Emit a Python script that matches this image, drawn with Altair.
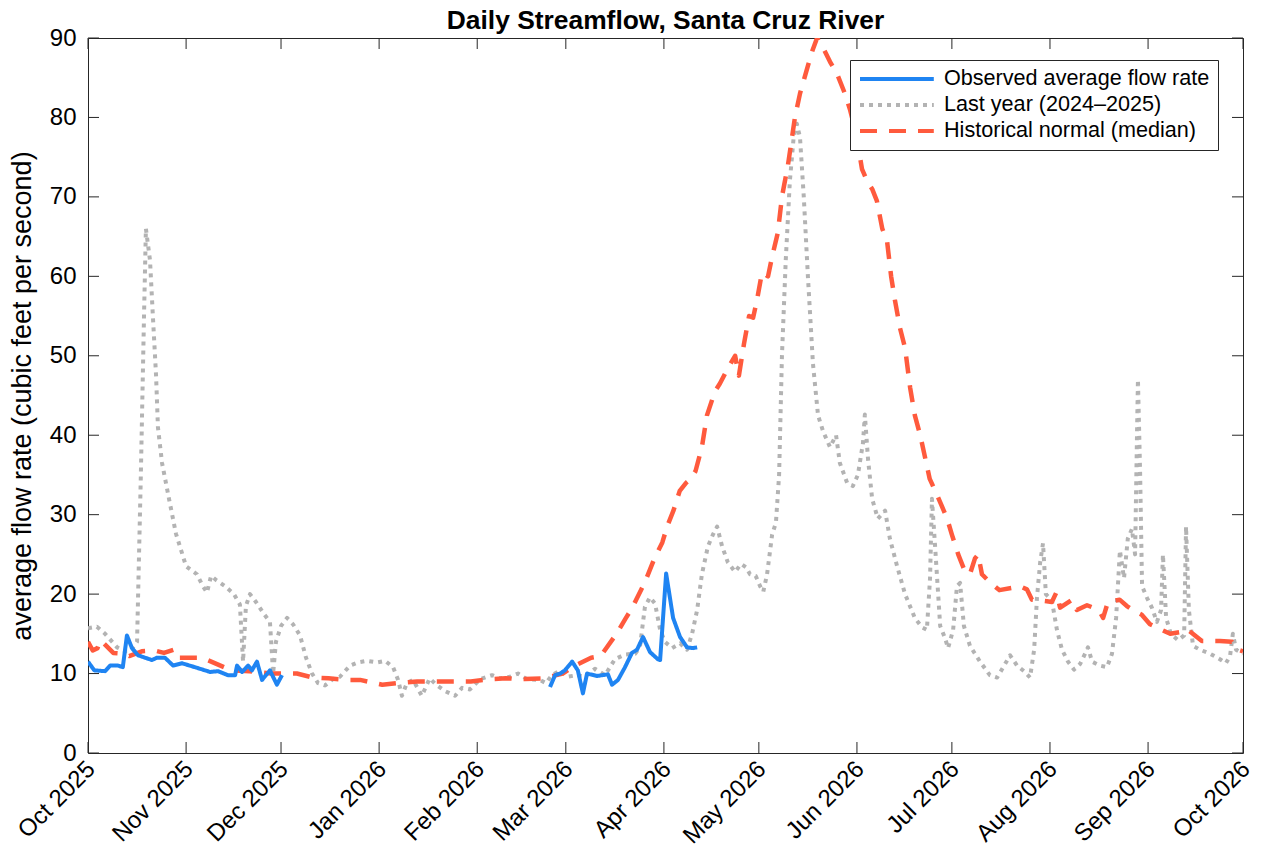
import altair as alt
import pandas as pd

START = pd.Timestamp("2025-10-01")
W, H = 1155, 715
FONT = "Liberation Sans"
INK = "#262626"

# ---- data (days since 1 Oct 2025, cfs) ----
obs1_day = [0, 2, 5.4, 7, 9.5, 11, 12.3, 13.9, 15.8, 20.2, 21.8, 24.3, 26.9, 29.7,
            33.8, 38.6, 41.1, 44.2, 46.5, 47.1, 48.7, 50.6, 51.8, 53.4, 55, 57.5, 59.7, 61.3]
obs1_val = [11.5, 10.4, 10.3, 11.0, 11.0, 10.8, 14.8, 13.2, 12.3, 11.7, 12.0, 12.0, 11.0, 11.3,
            10.8, 10.2, 10.3, 9.8, 9.8, 11.0, 10.2, 11.0, 10.4, 11.5, 9.2, 10.4, 8.6, 9.8]

obs2_day = [146, 147.6, 149.2, 150.7, 153, 154.8, 156.4, 157.7, 160.9, 164.3, 165.6, 167.5,
            169.7, 171.9, 173.5, 175.4, 177.6, 180.1, 180.8, 182.7, 184.9, 187.1, 189.3, 191.2, 192.5]
obs2_val = [8.3, 9.8, 10.0, 10.4, 11.5, 10.4, 7.5, 10.0, 9.7, 9.9, 8.6, 9.2,
            10.8, 12.6, 13.0, 14.6, 12.7, 11.8, 11.7, 22.6, 17.0, 14.6, 13.3, 13.2, 13.3]

last_day = [0, 2.8, 5.4, 9.2, 11.7, 13.3, 15.5, 16.7, 17.7, 18.3, 19.6, 20.5, 21.5, 22.1, 23.4,
            25.6, 27.8, 31, 34.4, 36.3, 37.6, 38.9, 40.4, 43.3, 46.1, 48, 49, 49.9, 51.2, 53.1,
            55.6, 57.5, 58.5, 59.4, 61, 62.9, 64.8, 67, 68.9, 70.8, 72.7, 74.9, 77.4, 79.6, 82.8,
            85.3, 88.2, 91.3, 93.9, 96.4, 98, 99.2, 100.8, 102.7, 105.5, 108, 110, 112.8, 116,
            118.2, 120.7, 123.9, 127.7, 130.2, 133.4, 135.9, 138.7, 142.8, 144.7, 146.6, 149.2,
            151.7, 154.5, 157, 160.2, 163.4, 166.5, 169.7, 172.9, 174.4, 176, 177.6, 179.2, 180.8,
            182.3, 184.6, 187.1, 189.3, 190.9, 192.5, 194, 195.9, 197.5, 198.8, 200.4, 202.2,
            204.5, 206.4, 207.9, 209.2, 211, 212.4, 213.4, 214.6, 216.2, 217.4, 218.4, 219.3,
            220.5, 221.8, 223, 224, 225, 226.2, 227.5, 229.1, 230.7, 232.3, 234.5, 236.4, 237.6,
            239.9, 241.7, 243.3, 244.9, 245.5, 246.5, 247.8, 249.6, 251.9, 253.4, 255.7, 258.2,
            261.3, 263.6, 265.1, 266.1, 266.7, 267.7, 269.3, 270.8, 271.8, 273.4, 274.6, 275.6,
            276.8, 278.7, 281.9, 285, 287.3, 289.8, 291.4, 293.6, 296.1, 297.7, 299, 299.9, 300.9,
            301.8, 302.7, 304.6, 306.2, 307.8, 309.7, 311.6, 313.5, 315.1, 316, 317.3, 319.8, 322,
            323.6, 324.9, 326.1, 327.4, 328.6, 329.9, 330.9, 331.5, 331.8, 332.5, 333.1, 334.7,
            336.2, 337.8, 339.1, 339.7, 340.7, 342.2, 344.5, 346.4, 347, 347.9, 349.2, 351.4,
            354.6, 357.7, 359.6, 360.9, 361.8, 362.8, 365]
last_val = [15.7, 15.9, 15.0, 13.3, 12.8, 12.8, 14.0, 35, 55, 66, 62, 55, 47.6, 41, 36.5,
            32, 27.6, 23.5, 22.5, 21, 20.2, 22.3, 21.8, 21, 20, 18.7, 11.5, 18.5, 20, 19,
            17.5, 16.5, 10, 14, 16, 17, 16.2, 14.8, 12, 10, 8.8, 8.5, 9.3, 9.6, 11,
            11.4, 11.6, 11.4, 11.6, 10.8, 9.2, 7.2, 8.8, 9.2, 7.2, 9.4, 8.6, 7.8, 7.2,
            8.2, 8.0, 9.3, 9.8, 9.4, 9.6, 10, 9.3, 9.2, 8.8, 9.8, 10.4,
            9.6, 9.8, 9.6, 10.6, 9.8, 11.8, 12.4, 12.5, 13.3, 18.4, 19.6, 18.8, 15.5,
            14, 13.2, 13.8, 13, 15, 18, 22.5, 26, 27.5, 28.5, 26, 24,
            22.8, 23.8, 23.4, 22.5, 22.3, 21, 20.3, 22.5, 27.5, 29, 35, 50,
            62, 72, 77.5, 79.2, 77.5, 70, 60, 49, 42.5, 40.5, 38.5, 40, 36.5,
            34, 33.6, 35, 39, 42.6, 37, 32, 29.5, 30.5, 27, 23.5, 20,
            17, 15.8, 15.5, 22, 32, 26, 16, 14.5, 13.2, 15.5, 21, 21.4,
            16, 13.5, 11.5, 9.8, 9.5, 11.2, 12.3, 11, 10.2, 9.5, 13, 19.6, 24,
            26.4, 20, 19.2, 15.5, 13, 11.5, 10.5, 11.2, 12.5, 13.3, 11.5, 11, 10.8,
            12.5, 17, 25.5, 22, 27, 28.2, 25, 40, 47, 35, 21, 19.5,
            18.3, 16.5, 18, 25, 17, 15, 14.2, 14.8, 28.5, 18, 13.5, 13,
            12.5, 11.8, 11.3, 12.2, 15, 13, 12.5]

hist_day = [0, 1.5, 3, 4, 8, 11.5, 13, 17, 21, 24, 27, 28, 33, 36, 43, 45, 51, 58, 61, 66,
            71, 76, 82, 86, 93, 98, 104, 109, 115, 121, 127, 132, 138, 144, 150, 153, 159,
            162, 167, 170, 172, 176, 179, 181.5, 183, 185, 187, 189, 190.5, 192, 194, 195.6,
            198.1, 199.7, 201.9, 204.5, 205.7, 207.3, 208.9, 210.2, 211.4, 213, 214.9, 216.2,
            218, 219.3, 220, 221.2, 223.4, 225,
            227.5, 229, 230.4, 232, 234.5, 236.7, 239.2, 240.8, 242.7, 244.6, 246.2, 247.8,
            249.3, 251, 252.5, 253.8, 255, 256.6, 258.2, 259.8, 261.3, 263, 266, 268.3, 269.9,
            271.5, 273, 275, 277, 278.7, 280.3, 281.3, 282.5, 285, 288, 292.3, 294.5, 296.7,
            298.3, 303, 304.6, 306, 307.2, 311, 312.5, 315.7, 318.2, 319.8, 320.8, 322.3, 326,
            328.3, 330.2, 333, 335.6, 337.2, 342, 345, 347.3, 352, 357.7, 361.5, 363.4, 365]
hist_val = [14.0, 12.9, 13.2, 14.2, 12.6, 12.5, 12.2, 12.8, 12.9, 12.6, 13.0, 12.0, 12.0, 12.0,
            10.8, 10.4, 10.3, 10.0, 10.0, 10.0, 9.5, 9.4, 9.2, 9.2, 8.6, 8.8, 9.0, 9.0, 9.0,
            9.0, 9.3, 9.4, 9.3, 9.4, 10.0, 10.8, 12.0, 12.2, 15.0, 17.0, 18.3, 21.5, 24.5,
            26.5, 28.5, 30.5, 33.0, 34.0, 34.5, 35.5, 38.5, 42.5,
            45.5, 46.5, 48.2, 50, 47.5, 51.5, 55, 54.8, 57, 60.5, 60, 62.5,
            65.5, 70, 71.5, 74, 80, 83,
            86.5, 88.5, 90, 89, 87, 85.5, 83, 81, 78, 73.5, 72,
            71, 69.5, 66, 64.5, 60, 57, 53.5, 51, 46, 42.5, 40, 34.5, 32.5, 31, 29.5, 27.5,
            25, 23, 22.5, 24.5, 25, 22.5, 21.5, 20.5, 20.8, 21, 20.6, 19.3, 19.1, 19, 20.2,
            18.3, 19.3, 18, 18.6, 18.2, 17.7, 17, 19, 19.3, 18.5, 18, 17.4, 16.2, 15.9, 15,
            15.2, 15.6, 14.1, 14.1, 14, 13, 12.8]

SERIES = ["Observed average flow rate", "Last year (2024\u20132025)", "Historical normal (median)"]
COLORS = ["#1f84f2", "#b3b3b3", "#ff5a3d"]
DASHES = [[1, 0], [4, 5], [17, 12]]

month_ticks = ["2025-10-01", "2025-11-01", "2025-12-01", "2026-01-01", "2026-02-01",
               "2026-03-01", "2026-04-01", "2026-05-01", "2026-06-01", "2026-07-01",
               "2026-08-01", "2026-09-01", "2026-10-01"]
y_ticks = [0, 10, 20, 30, 40, 50, 60, 70, 80, 90]


def to_date(d):
    return (START + pd.to_timedelta(d, unit="D")).strftime("%Y-%m-%dT%H:%M:%S")


rows = []
for name, seg, days, vals in [
    (SERIES[0], "a", obs1_day, obs1_val),
    (SERIES[0], "b", obs2_day, obs2_val),
    (SERIES[1], "a", last_day, last_val),
    (SERIES[2], "a", hist_day, hist_val),
]:
    for d, v in zip(days, vals):
        rows.append({"series": name, "seg": seg, "date": to_date(d), "value": v})
df = pd.DataFrame(rows)

xt = pd.DataFrame({"date": [m + "T00:00:00" for m in month_ticks]})
yt = pd.DataFrame({"value": y_ticks})

x_dom = [alt.DateTime(year=2025, month=10, date=1), alt.DateTime(year=2026, month=10, date=1)]
x_vals = [alt.DateTime(year=int(m[:4]), month=int(m[5:7]), date=1) for m in month_ticks]

X = alt.X("date:T", scale=alt.Scale(domain=x_dom),
          axis=alt.Axis(values=x_vals, format="%b %Y", title=None, labelAngle=315,
                        labelAlign="right", labelBaseline="middle", labelPadding=12,
                        labelOffset=3, labelOverlap=False, labelBound=False, labelFlush=False))
Y = alt.Y("value:Q", scale=alt.Scale(domain=[0, 90], nice=False, zero=False),
          axis=alt.Axis(values=y_ticks, title="average flow rate (cubic feet per second)",
                        labelPadding=12, titlePadding=13))

leg = alt.Legend(title=None, orient="none", legendX=762, legendY=22, direction="vertical",
                 fillColor="white", strokeColor=INK, padding=8, rowPadding=4,
                 labelFontSize=21.6, labelFont=FONT, labelColor="black", labelLimit=500,
                 labelOffset=64, symbolType="M-1,0H7.2", symbolSize=324, symbolStrokeWidth=4)
C = alt.Color("series:N", scale=alt.Scale(domain=SERIES, range=COLORS), legend=leg)
D = alt.StrokeDash("series:N", scale=alt.Scale(domain=SERIES, range=DASHES), legend=leg)

base = alt.Chart(df)


def line(name, width):
    return base.transform_filter(alt.datum.series == name).mark_line(
        strokeWidth=width, strokeCap="butt", strokeJoin="round", clip=True
    ).encode(x=X, y=Y, color=C, strokeDash=D, detail="seg:N")


gray = line(SERIES[1], 4)
red = line(SERIES[2], 4.5)
blue = line(SERIES[0], 4)

tick_style = dict(color=INK, strokeWidth=1)
xb = alt.Chart(xt).mark_rule(**tick_style).encode(x=X, y=alt.value(H), y2=alt.value(H - 11))
xtp = alt.Chart(xt).mark_rule(**tick_style).encode(x=X, y=alt.value(0), y2=alt.value(11))
yl = alt.Chart(yt).mark_rule(**tick_style).encode(y=Y, x=alt.value(0), x2=alt.value(11))
yr = alt.Chart(yt).mark_rule(**tick_style).encode(y=Y, x=alt.value(W), x2=alt.value(W - 11))

chart = alt.layer(gray, red, blue, xb, xtp, yl, yr).properties(
    width=W, height=H,
    title=alt.Title("Daily Streamflow, Santa Cruz River", fontSize=26.4, fontWeight="bold",
                    font=FONT, color="black", anchor="middle", offset=-8, frame="group"),
    autosize=alt.AutoSizeParams(type="none"),
    padding={"left": 80, "top": 30, "right": 12, "bottom": 92},
    background="white",
).configure_view(
    stroke=INK, strokeWidth=1
).configure_axis(
    labelFont=FONT, labelFontSize=24, labelColor="black", titleFont=FONT, titleFontSize=27,
    titleFontWeight="normal", titleColor="black", domain=False, ticks=False, grid=False
)

chart.save("out.html", embed_options={"renderer": "svg", "actions": False})
